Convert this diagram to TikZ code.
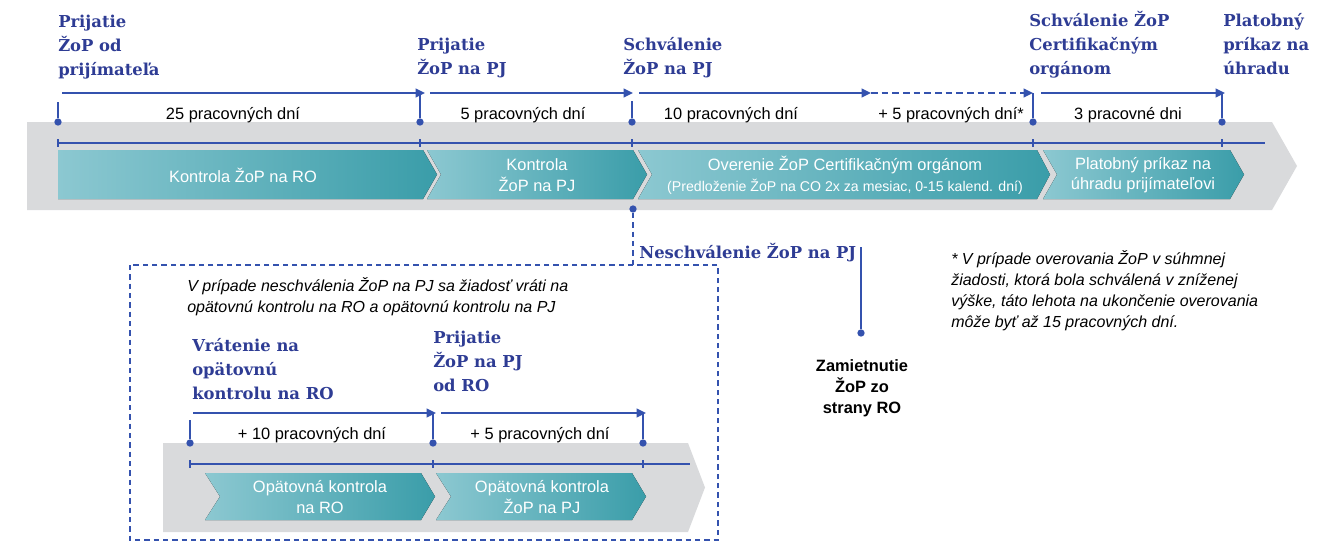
\documentclass[tikz,border=0pt]{standalone}
\usepackage{fontspec}
\setmainfont{Liberation Sans}
\newfontfamily\headfont{DejaVu Serif}
\usetikzlibrary{arrows.meta}
\definecolor{headblue}{HTML}{2E3C94}
\definecolor{lineblue}{HTML}{3452AE}
\definecolor{bandgray}{HTML}{D9DADC}
\definecolor{tealL}{HTML}{8CC8D1}
\definecolor{tealD}{HTML}{3A9DA9}

\begin{document}
\begin{tikzpicture}[x=0.75pt,y=-0.75pt,
  head/.style={anchor=base west,inner sep=0,align=left,text=headblue,font=\headfont\bfseries\fontsize{12.3}{18}\selectfont},
  days/.style={anchor=base,inner sep=0,font=\fontsize{12.3}{15}\selectfont},
  phase/.style={inner sep=0,align=center,text=white,font=\fontsize{12.3}{15.5}\selectfont},
  note/.style={anchor=base west,inner sep=0,align=left,font=\itshape\fontsize{12}{15.75}\selectfont},
  dot/.style={circle,fill=lineblue,inner sep=0,minimum size=5.5pt},
  tl/.style={lineblue,line width=1.4pt},
  tarr/.style={tl,-{Triangle[length=7pt,width=6.5pt]}},
  chev/.style={left color=tealL,right color=tealD},
  dashbox/.style={lineblue,line width=1.3pt,dash pattern=on 4pt off 3pt}]
\useasboundingbox (0,0) rectangle (1335,543);

\fill[bandgray] (27,122) -- (1272,122) -- (1297,166) -- (1272,210) -- (27,210) -- cycle;
\fill[chev] (58,150) -- (423,150) -- (437,174.5) -- (423,199) -- (58,199) -- cycle;
\fill[chev] (427,150) -- (633,150) -- (647,174.5) -- (633,199) -- (427,199) -- (441,174.5) -- cycle;
\fill[chev] (638,150) -- (1037,150) -- (1050,174.5) -- (1037,199) -- (638,199) -- (652,174.5) -- cycle;
\fill[chev] (1043,150) -- (1230,150) -- (1244,174.5) -- (1230,199) -- (1043,199) -- (1057,174.5) -- cycle;
\draw[tl] (58,143) -- (1265,143);
\draw[tl] (58,139) -- (58,147);
\draw[tl] (420,139) -- (420,147);
\draw[tl] (632,139) -- (632,147);
\draw[tl] (1033,139) -- (1033,147);
\draw[tl] (1222,139) -- (1222,147);

\node[phase,anchor=base] (p1) at (243,182) {Kontrola ŽoP na RO};
\node[phase] (p2) at (537,175) {Kontrola\\ŽoP na PJ};
\node[phase] (p3) at (845,175) {Overenie ŽoP Certifikačným orgánom\\{\fontsize{10.6}{13}\selectfont(Predloženie ŽoP na CO 2x za mesiac, 0-15 kalend. dní)}};
\node[phase] (p4) at (1143,175) {Platobný príkaz na\\úhradu prijímateľovi};

\node[dot] (d1) at (58,122) {};
\node[dot] (d2) at (420,122) {};
\node[dot] (d3) at (632,122) {};
\node[dot] (d4) at (1033,122) {};
\node[dot] (d5) at (1222,122) {};
\coordinate (s1) at (62,93);
\coordinate (e1) at (425,93);
\coordinate (s2) at (430,93);
\coordinate (e2) at (633,93);
\coordinate (s3) at (639,93);
\coordinate (m3) at (871,93);
\coordinate (e4) at (1033,93);
\coordinate (s5) at (1041,93);
\coordinate (e5) at (1225,93);
\draw[tl] (d1) -- (58,102);
\draw[tl] (d2) -- (d2 |- e1);
\draw[tl] (d3) -- (632,101);
\draw[tl] (d4) -- (d4 |- e4);
\draw[tl] (d5) -- (d5 |- e5);
\draw[tarr] (s1) -- (e1);
\draw[tarr] (s2) -- (e2);
\draw[tarr] (s3) -- (m3);
\draw[tarr,dash pattern=on 5pt off 3pt] (m3) -- (e4);
\draw[tarr] (s5) -- (e5);

\node[days] (t1) at (233,119) {25 pracovných dní};
\node[days] (t2) at (523,119) {5 pracovných dní};
\node[days] (t3) at (731,119) {10 pracovných dní};
\node[days] (t4) at (951,119) {+ 5 pracovných dní*};
\node[days] (t5) at (1128,119) {3 pracovné dni};

\node[head] (h1) at (58,75) {Prijatie\\ŽoP od\\prijímateľa};
\node[head] (h2) at (417,74) {Prijatie\\ŽoP na PJ};
\node[head] (h3) at (623,74) {Schválenie\\ŽoP na PJ};
\node[head] (h4) at (1029,74) {Schválenie ŽoP\\Certifikačným\\orgánom};
\node[head] (h5) at (1223,74) {Platobný\\príkaz na\\úhradu};

\node[dot] (dn) at (633,209) {};
\coordinate (bx1) at (130,265);
\coordinate (bx2) at (718,540);
\draw[dashbox] (dn) -- (dn |- bx1);
\draw[dashbox] (bx1) rectangle (bx2);
\node[head] (h6) at (639,258) {Neschválenie ŽoP na PJ};
\coordinate (zt) at (861,247);
\node[dot] (dz) at (861,333) {};
\draw[tl] (zt) -- (dz);
\node[anchor=base,inner sep=0,align=center,font=\bfseries\fontsize{12.3}{15.75}\selectfont] (z1) at (862,413) {Zamietnutie\\ŽoP zo\\strany RO};
\node[note] (n1) at (951,327) {* V prípade overovania ŽoP v súhmnej\\žiadosti, ktorá bola schválená v zníženej\\výške, táto lehota na ukončenie overovania\\môže byť až 15 pracovných dní.};

\node[note] (n2) at (187,312) {V prípade neschválenia ŽoP na PJ sa žiadosť vráti na\\opätovnú kontrolu na RO a opätovnú kontrolu na PJ};
\node[head] (h7) at (192,399) {Vrátenie na\\opätovnú\\kontrolu na RO};
\node[head] (h8) at (433,391) {Prijatie\\ŽoP na PJ\\od RO};

\fill[bandgray] (163,443) -- (688,443) -- (705,487.5) -- (688,532) -- (163,532) -- cycle;
\fill[chev] (205,473) -- (421,473) -- (435,496.5) -- (421,520) -- (205,520) -- (220,496.5) -- cycle;
\fill[chev] (436,473) -- (632,473) -- (646,496.5) -- (632,520) -- (436,520) -- (451,496.5) -- cycle;
\draw[tl] (190,464) -- (690,464);
\draw[tl] (190,460) -- (190,468);
\draw[tl] (433,460) -- (433,468);
\draw[tl] (643,460) -- (643,468);
\node[phase] (p5) at (320,497) {Opätovná kontrola\\na RO};
\node[phase] (p6) at (542,497) {Opätovná kontrola\\ŽoP na PJ};

\node[dot] (d6) at (190,443) {};
\node[dot] (d7) at (433,443) {};
\node[dot] (d8) at (643,443) {};
\coordinate (s6) at (193,413);
\coordinate (e6) at (436,413);
\coordinate (s7) at (441,413);
\coordinate (e7) at (646,413);
\draw[tl] (d6) -- (190,420);
\draw[tl] (d7) -- (d7 |- e6);
\draw[tl] (d8) -- (d8 |- e7);
\draw[tarr] (s6) -- (e6);
\draw[tarr] (s7) -- (e7);
\node[days] (t6) at (312,439) {+ 10 pracovných dní};
\node[days] (t7) at (540,439) {+ 5 pracovných dní};
\end{tikzpicture}
\end{document}
